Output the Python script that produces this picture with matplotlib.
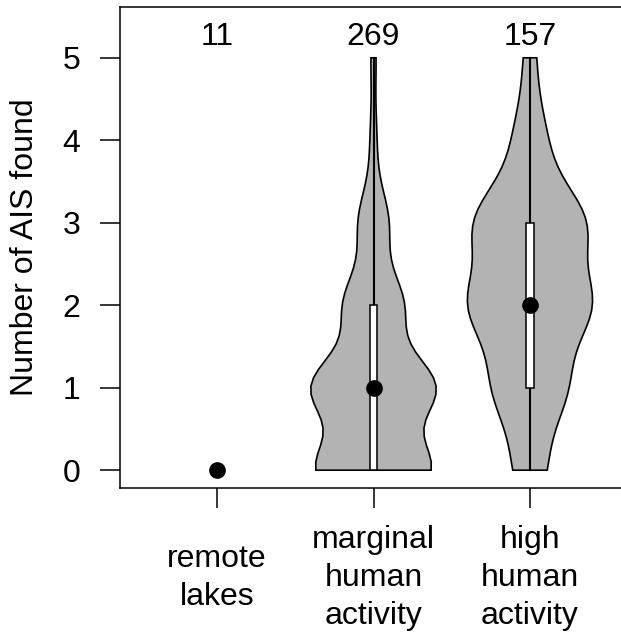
import numpy as np
import matplotlib
matplotlib.use("Agg")
import matplotlib.pyplot as plt
from matplotlib.patches import Rectangle
from matplotlib.transforms import blended_transform_factory

plt.rcParams['font.family'] = ['Liberation Sans', 'DejaVu Sans']

# number of AIS found per lake (0..5) and how many lakes had each count
ais_levels = np.arange(6)
remote_counts = [11, 0, 0, 0, 0, 0]
marginal_counts = [91, 98, 47, 24, 5, 4]
high_counts = [13, 30, 50, 46, 13, 5]

group_labels = ["remote\nlakes", "marginal\nhuman\nactivity", "high\nhuman\nactivity"]
group_counts = [remote_counts, marginal_counts, high_counts]

FS = 23


def hnorm(data):
    # normal optimal smoothing parameter
    return np.std(data, ddof=1) * (4 / (3 * len(data))) ** 0.2


def kde(data, y, h):
    return np.exp(-0.5 * ((y[:, None] - data[None, :]) / h) ** 2).sum(1)


fig = plt.figure(figsize=(6.21, 6.35), dpi=100)
ax = fig.add_axes([120 / 621, 147 / 635, 507 / 621, 481 / 635])

for at, counts in enumerate(group_counts, start=1):
    data = np.repeat(ais_levels, counts)
    if data.min() == data.max():
        # all lakes share one value, so only the median point
        ax.plot(at, np.median(data), 'o', color='black', ms=11, zorder=5)
        continue
    grid = np.linspace(data.min(), data.max(), 50)
    d = kde(data, grid, hnorm(data))
    w = d / d.max() * 0.4
    ax.fill(np.r_[at - w, (at + w)[::-1]], np.r_[grid, grid[::-1]],
            fc='#b3b3b3', ec='black', lw=1.2, zorder=2)
    q1, med, q3 = np.quantile(data, [0.25, 0.5, 0.75])
    iqr = q3 - q1
    lo = max(data.min(), q1 - 1.5 * iqr)
    hi = min(data.max(), q3 + 1.5 * iqr)
    ax.plot([at, at], [lo, hi], color='black', lw=1.5, zorder=3)
    ax.add_patch(Rectangle((at - 0.025, q1), 0.05, q3 - q1,
                           fc='white', ec='black', lw=1.1, zorder=4))
    ax.plot(at, med, 'o', color='black', ms=11, zorder=5)

# sample sizes above each group
for at, counts in enumerate(group_counts, start=1):
    ax.text(at, 5.15, str(sum(counts)), ha='center', va='baseline', fontsize=FS)

ax.set_xlim(0.38, 3.62)
ax.set_ylim(-0.216, 5.616)
ax.set_yticks(range(6))
ax.set_xticks([1, 2, 3])
ax.set_xticklabels([])
ax.tick_params(axis='both', length=14.4, width=1.1, labelsize=FS, pad=14)
for sp in ax.spines.values():
    sp.set_linewidth(1.1)

trans = blended_transform_factory(ax.transData, fig.transFigure)
for at, lab in enumerate(group_labels, start=1):
    ax.text(at, 1 - 578 / 635, lab, transform=trans, ha='center', va='center',
            fontsize=FS, linespacing=1.35, multialignment='center')

fig.text(25 / 621, 1 - 247.5 / 635, "Number of AIS found", rotation=90,
         ha='center', va='center', fontsize=FS)

fig.savefig("out.png", dpi=100)
